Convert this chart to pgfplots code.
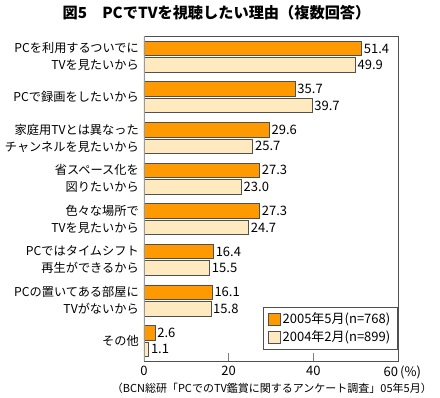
\documentclass[border=0pt]{standalone}
\usepackage{fontspec}
\setmainfont{Noto Sans CJK JP}
\usepackage{pgfplots}
\pgfplotsset{compat=1.18}
\definecolor{orangebar}{RGB}{255,153,0}
\definecolor{creambar}{RGB}{255,234,192}
\definecolor{edge}{RGB}{80,80,80}
\begin{document}
\begin{tikzpicture}
\useasboundingbox (-144pt,-37pt) rectangle (296pt,361pt);
\begin{axis}[
  at={(0pt,0pt)}, anchor=south west,
  scale only axis, width=254pt, height=325pt,
  xbar, bar width=14.5pt,
  xmin=0, xmax=60, ymin=-0.49, ymax=7.51,
  xtick={0,20,40,60},
  xticklabels={0,20,40,{\makebox[0pt][r]{60}\makebox[0pt][l]{\,(\%)}}},
  xtick pos=bottom, tick align=inside, major tick length=8pt,
  x tick style={gray, line width=0.8pt},
  ytick={0,1,2,3,4,5,6,7},
  yticklabels={その他,{PCの置いてある部屋に\\TVがないから},{PCではタイムシフト\\再生ができるから},{色々な場所で\\TVを見たいから},{省スペース化を\\図りたいから},{家庭用TVとは異なった\\チャンネルを見たいから},PCで録画をしたいから,{PCを利用するついでに\\TVを見たいから}},
  y tick style={draw=none},
  yticklabel style={align=right, inner sep=0pt, xshift=-5pt, font=\fontsize{12.2}{17}\selectfont},
  xticklabel style={inner sep=0pt, yshift=-5pt, font=\fontsize{13}{14}\selectfont},
  axis line style={edge},
  /pgf/number format/.cd, fixed, fixed zerofill, precision=1, assume math mode=true,
  /pgfplots/.cd,
  nodes near coords,
  nodes near coords style={anchor=west, inner sep=0pt, xshift=2pt, font=\fontsize{13}{14}\selectfont},
  legend style={at={(0.996,0.037)}, anchor=south east, draw=edge, fill=white,
    font=\fontsize{13}{15}\selectfont, inner xsep=5pt, inner ysep=4pt, row sep=2.5pt,
    nodes={inner sep=1.5pt}},
  legend cell align=left,
  legend image code/.code={\draw[#1] (0pt,-6pt) rectangle (12pt,6pt);},
]
\addplot[fill=orangebar, draw=edge, line width=0.7pt, bar shift=8.25pt]
  coordinates {(51.4,7) (35.7,6) (29.6,5) (27.3,4) (27.3,3) (16.4,2) (16.1,1) (2.6,0)};
\addlegendentry{2005年5月(n=768)}
\addplot[fill=creambar, draw=edge, line width=0.7pt, bar shift=-8.25pt]
  coordinates {(49.9,7) (39.7,6) (25.7,5) (23.0,4) (24.7,3) (15.5,2) (15.8,1) (1.1,0)};
\addlegendentry{2004年2月(n=899)}
\draw[gray!80, line width=2pt] (rel axis cs:0,0) -- (rel axis cs:0,1);
\end{axis}
\node[font=\fontsize{15.2}{18}\selectfont\bfseries] at (72.5pt,348pt) {図5　PCでTVを視聴したい理由（複数回答）};
\node[anchor=east, inner sep=0pt, font=\fontsize{11}{13}\selectfont] at (288pt,-27pt) {（BCN総研「PCでのTV鑑賞に関するアンケート調査」05年5月）};
\end{tikzpicture}
\end{document}
